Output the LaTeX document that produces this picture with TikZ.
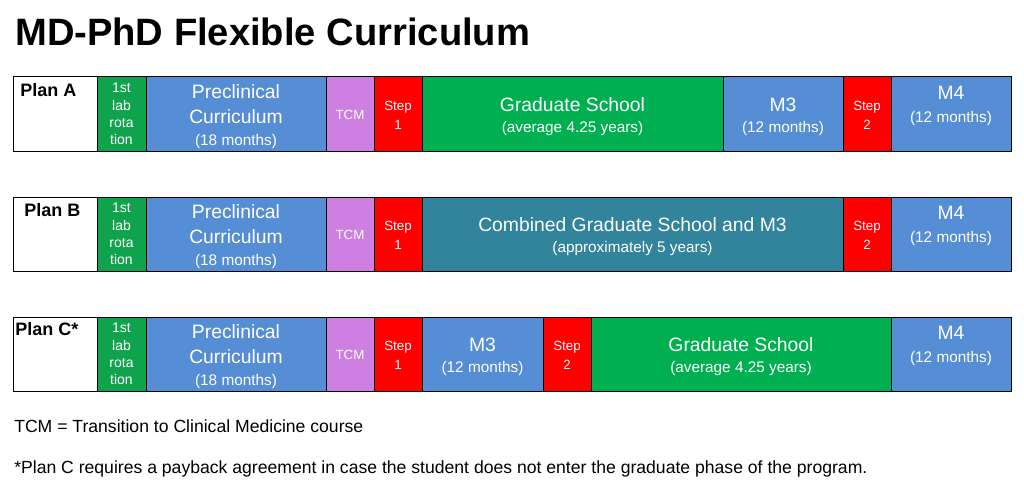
\documentclass[tikz,border=0pt]{standalone}
\usepackage{fontspec}
\setmainfont{Liberation Sans}
\usetikzlibrary{positioning}

\definecolor{cellblue}{RGB}{85,142,213}
\definecolor{gradgreen}{RGB}{0,176,80}
\definecolor{labgreen}{RGB}{16,163,78}
\definecolor{tcmpurple}{RGB}{206,128,226}
\definecolor{stepred}{RGB}{255,0,0}
\definecolor{combteal}{RGB}{49,132,155}

\newcommand{\sub}[1]{{\fontsize{11.5}{14}\selectfont #1}}
\newcommand{\cellpad}{\rule{0pt}{15pt}}

\begin{document}
\begin{tikzpicture}[x=0.75pt, y=-0.75pt, node distance=0pt]
	\tikzstyle{cell} = [draw=black, line width=0.75pt, minimum height=55.5pt, inner sep=0pt, outer sep=0pt, text=white, align=center, font=\fontsize{14.5}{18.75}\selectfont]
	\tikzstyle{small} = [cell, font=\fontsize{10}{14.25}\selectfont]
	\tikzstyle{labcell} = [cell, fill=labgreen, minimum width=36.75pt, font=\fontsize{10.5}{13}\selectfont]
	\tikzstyle{planbox} = [cell, fill=white, minimum width=63pt]
	\tikzstyle{plan} = [font=\bfseries\fontsize{13.5}{16}\selectfont, inner sep=0pt, anchor=base west]
	\tikzstyle{note} = [font=\fontsize{13.2}{16}\selectfont, inner sep=0pt, anchor=west]

	\useasboundingbox (0,0) rectangle (1024,492);

	\node[anchor=west, inner sep=0pt, font=\bfseries\fontsize{28.6}{34}\selectfont] (title) at (15,32) {MD-PhD Flexible Curriculum};

	% Plan A
	\begin{scope}
		\node[planbox, anchor=west] (a0) at (13,114) {};
		\node[plan] (a0t) at ([shift={(5.25pt,-14.6pt)}]a0.north west) {Plan A};
		\node[labcell, right=of a0] (a1) {1st\\lab\\rota\\tion};
		\node[cell, fill=cellblue, minimum width=135pt, right=of a1] (a2) {\cellpad Preclinical\\Curriculum\\[-2.25pt]\sub{(18 months)}};
		\node[small, fill=tcmpurple, minimum width=36pt, right=of a2] (a3) {\rule{0pt}{9pt}TCM};
		\node[small, fill=stepred, minimum width=36pt, right=of a3] (a4) {\rule{0pt}{9pt}Step\\1};
		\node[cell, fill=gradgreen, minimum width=225.75pt, right=of a4] (a5) {\cellpad Graduate School\\[-3pt]\sub{(average 4.25 years)}};
		\node[cell, fill=cellblue, minimum width=90pt, right=of a5] (a6) {\cellpad M3\\[-3pt]\sub{(12 months)}};
		\node[small, fill=stepred, minimum width=36pt, right=of a6] (a7) {\rule{0pt}{9pt}Step\\2};
		\node[cell, fill=cellblue, minimum width=90pt, right=of a7] (a8) {M4\\[-1.5pt]\sub{(12 months)}\\[-4pt]\mbox{}};
	\end{scope}

	% Plan B
	\begin{scope}[yshift=-90pt]
		\node[planbox, anchor=west] (b0) at (13,114) {};
		\node[plan] (b0t) at ([shift={(8.25pt,-14.6pt)}]b0.north west) {Plan B};
		\node[labcell, right=of b0] (b1) {1st\\lab\\rota\\tion};
		\node[cell, fill=cellblue, minimum width=135pt, right=of b1] (b2) {\cellpad Preclinical\\Curriculum\\[-2.25pt]\sub{(18 months)}};
		\node[small, fill=tcmpurple, minimum width=36pt, right=of b2] (b3) {\rule{0pt}{9pt}TCM};
		\node[small, fill=stepred, minimum width=36pt, right=of b3] (b4) {\rule{0pt}{9pt}Step\\1};
		\node[cell, fill=combteal, minimum width=315.75pt, right=of b4] (b5) {\cellpad Combined Graduate School and M3\\[-3pt]\sub{(approximately 5 years)}};
		\node[small, fill=stepred, minimum width=36pt, right=of b5] (b6) {\rule{0pt}{9pt}Step\\2};
		\node[cell, fill=cellblue, minimum width=90pt, right=of b6] (b7) {M4\\[-1.5pt]\sub{(12 months)}\\[-4pt]\mbox{}};
	\end{scope}

	% Plan C
	\begin{scope}[yshift=-180pt]
		\node[planbox, anchor=west] (c0) at (13,114) {};
		\node[plan] (c0t) at ([shift={(1.5pt,-13.9pt)}]c0.north west) {Plan C*};
		\node[labcell, right=of c0] (c1) {1st\\lab\\rota\\tion};
		\node[cell, fill=cellblue, minimum width=135pt, right=of c1] (c2) {\cellpad Preclinical\\Curriculum\\[-2.25pt]\sub{(18 months)}};
		\node[small, fill=tcmpurple, minimum width=36pt, right=of c2] (c3) {\rule{0pt}{9pt}TCM};
		\node[small, fill=stepred, minimum width=36pt, right=of c3] (c4) {\rule{0pt}{9pt}Step\\1};
		\node[cell, fill=cellblue, minimum width=90.75pt, right=of c4] (c5) {\cellpad M3\\[-3pt]\sub{(12 months)}};
		\node[small, fill=stepred, minimum width=36pt, right=of c5] (c6) {\rule{0pt}{9pt}Step\\2};
		\node[cell, fill=gradgreen, minimum width=225pt, right=of c6] (c7) {\cellpad Graduate School\\[-3pt]\sub{(average 4.25 years)}};
		\node[cell, fill=cellblue, minimum width=90pt, right=of c7] (c8) {M4\\[-1.5pt]\sub{(12 months)}\\[-4pt]\mbox{}};
	\end{scope}

	\node[note] (tcmnote) at (14,426) {TCM = Transition to Clinical Medicine course};
	\node[note] (plancnote) at (14,469) {*Plan C requires a payback agreement in case the student does not enter the graduate phase of the program.};
\end{tikzpicture}
\end{document}
